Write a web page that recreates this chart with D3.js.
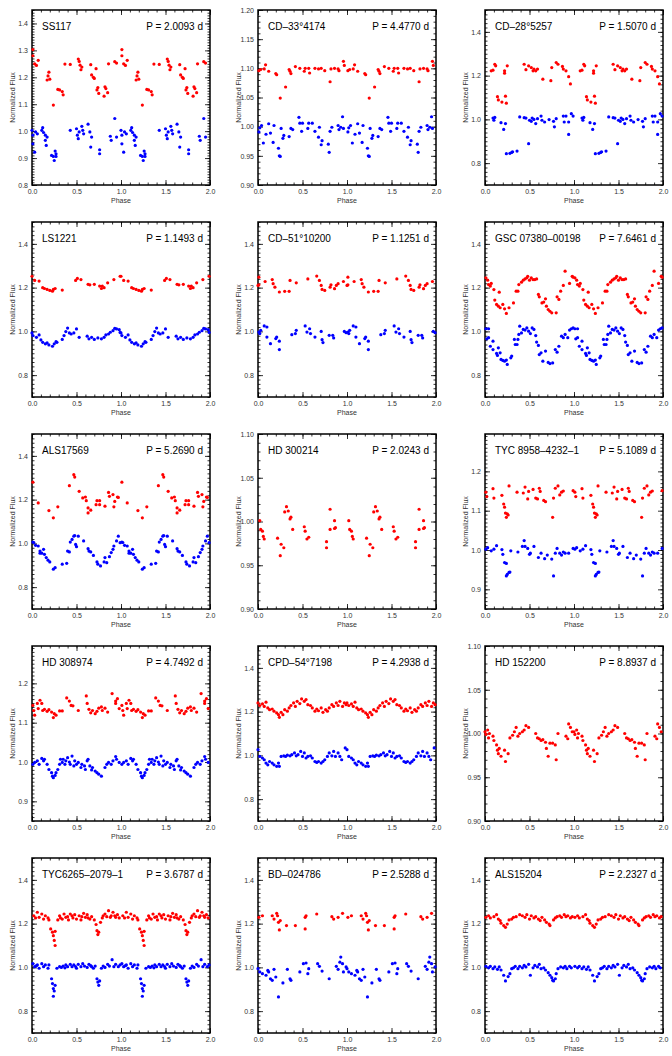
<!DOCTYPE html>
<html>
<head>
<meta charset="utf-8">
<script src="https://cdn.jsdelivr.net/npm/d3@7"></script>
<style>
body { margin: 0; background: #fff; }
text { font-family: "Liberation Sans", Arial, sans-serif; }
</style>
</head>
<body>
<div id="chart"></div>
<script>
// phase-folded light curves, one cycle (0-1) per series; drawn again at phase+1

var ss117Red = [[0.01,1.303],[0.01,1.28],[0.03,1.25],[0.05,1.244],[0.07,1.263],[0.17,1.19],[0.18,1.205],[0.19,1.219],[0.20,1.193],[0.24,1.097],[0.29,1.155],[0.31,1.153],[0.34,1.147],[0.35,1.135],[0.37,1.249],[0.43,1.248],[0.52,1.268],[0.53,1.259],[0.54,1.245],[0.55,1.228],[0.56,1.238],[0.66,1.247],[0.67,1.209],[0.69,1.2],[0.70,1.196],[0.72,1.232],[0.73,1.153],[0.74,1.162],[0.75,1.14],[0.81,1.13],[0.82,1.165],[0.83,1.158],[0.85,1.143],[0.86,1.25],[0.93,1.258],[0.95,1.253]];
var ss117Blue = [[0.0,1.003],[0.01,0.985],[0.01,0.953],[0.03,0.922],[0.04,0.997],[0.06,0.99],[0.11,1.003],[0.12,1.013],[0.13,0.995],[0.15,0.985],[0.15,0.966],[0.16,0.947],[0.17,0.978],[0.22,0.91],[0.24,0.906],[0.25,0.891],[0.26,0.926],[0.27,0.916],[0.27,0.906],[0.43,1.003],[0.50,1.009],[0.51,0.985],[0.52,0.972],[0.53,0.997],[0.56,1.018],[0.57,1.003],[0.58,0.99],[0.63,1.026],[0.65,0.997],[0.66,0.941],[0.67,0.978],[0.76,0.916],[0.76,0.931],[0.88,0.981],[0.89,0.966],[0.93,1.047],[0.95,0.978]];

var cd33Red = [[0.01,1.096],[0.03,1.098],[0.07,1.099],[0.085,1.106],[0.12,1.095],[0.20,1.091],[0.21,1.089],[0.25,1.049],[0.31,1.068],[0.35,1.098],[0.36,1.095],[0.37,1.091],[0.42,1.103],[0.47,1.1],[0.52,1.095],[0.53,1.1],[0.57,1.1],[0.58,1.092],[0.64,1.1],[0.68,1.099],[0.71,1.1],[0.75,1.096],[0.81,1.077],[0.82,1.099],[0.86,1.1],[0.90,1.099],[0.91,1.096],[0.96,1.112],[0.97,1.105]];
var cd33Blue = [[0.01,0.991],[0.02,0.998],[0.04,1.002],[0.06,0.972],[0.09,0.987],[0.12,1.005],[0.14,0.989],[0.17,0.973],[0.18,1.002],[0.23,0.963],[0.24,0.95],[0.25,0.949],[0.26,0.997],[0.28,0.98],[0.29,0.985],[0.35,0.983],[0.37,0.997],[0.39,0.995],[0.46,1.016],[0.47,1.006],[0.49,0.992],[0.50,1.006],[0.56,0.997],[0.57,1.006],[0.61,1.006],[0.64,0.992],[0.68,0.982],[0.69,0.999],[0.71,0.969],[0.72,0.976],[0.79,0.97],[0.80,0.956],[0.81,0.992],[0.83,0.999],[0.90,1.002],[0.91,0.995],[0.93,0.999],[0.95,1.017],[0.96,0.997]];

var cd28Red = [[0.07,1.222],[0.09,1.225],[0.11,1.252],[0.12,1.245],[0.14,1.104],[0.15,1.089],[0.19,1.079],[0.22,1.222],[0.22,1.211],[0.23,1.106],[0.24,1.074],[0.25,1.245],[0.44,1.252],[0.46,1.227],[0.49,1.245],[0.52,1.237],[0.54,1.222],[0.55,1.23],[0.57,1.222],[0.59,1.23],[0.65,1.184],[0.74,1.177],[0.75,1.237],[0.80,1.26],[0.82,1.252],[0.87,1.242],[0.88,1.23],[0.91,1.222],[0.94,1.195],[0.96,1.162]];
var cd28Blue = [[0.09,1.006],[0.10,0.996],[0.11,1.009],[0.18,0.985],[0.21,0.954],[0.23,0.981],[0.24,0.843],[0.28,0.845],[0.30,0.849],[0.31,0.852],[0.36,0.855],[0.39,1.011],[0.44,1.008],[0.46,1.006],[0.49,0.889],[0.50,0.996],[0.52,0.991],[0.53,1.006],[0.55,1.0],[0.57,0.981],[0.59,1.003],[0.63,1.015],[0.64,0.996],[0.67,0.988],[0.72,0.999],[0.77,0.991],[0.78,0.966],[0.80,1.003],[0.88,1.015],[0.89,0.988],[0.91,1.015],[0.94,0.988],[0.94,0.931],[0.97,1.026],[0.99,1.015]];

var ls1221Red = [[0.0,1.252],[0.03,1.233],[0.08,1.23],[0.12,1.2],[0.14,1.196],[0.17,1.192],[0.20,1.187],[0.23,1.184],[0.24,1.192],[0.26,1.196],[0.34,1.189],[0.49,1.233],[0.51,1.242],[0.55,1.237],[0.63,1.215],[0.65,1.213],[0.70,1.215],[0.76,1.207],[0.78,1.196],[0.79,1.207],[0.81,1.2],[0.85,1.222],[0.92,1.237],[0.99,1.252]];
var ls1221Blue = [[0.0,0.993],[0.01,0.981],[0.05,0.973],[0.08,0.984],[0.10,0.961],[0.12,0.95],[0.15,0.943],[0.17,0.947],[0.19,0.938],[0.23,0.932],[0.25,0.943],[0.27,0.953],[0.28,0.95],[0.34,0.963],[0.36,0.981],[0.38,0.999],[0.40,1.015],[0.42,0.993],[0.44,0.988],[0.47,0.993],[0.50,1.011],[0.53,0.973],[0.62,0.978],[0.64,0.966],[0.67,0.973],[0.70,0.963],[0.74,0.97],[0.78,0.966],[0.81,0.973],[0.83,0.984],[0.86,0.988],[0.88,0.996],[0.91,1.003],[0.93,1.014],[0.95,1.011],[0.98,1.008],[0.99,0.995]];

var cd51Red = [[0.0,1.21],[0.01,1.248],[0.01,1.213],[0.08,1.228],[0.16,1.237],[0.17,1.218],[0.19,1.202],[0.24,1.18],[0.30,1.183],[0.35,1.183],[0.36,1.233],[0.43,1.222],[0.56,1.24],[0.66,1.253],[0.69,1.233],[0.71,1.21],[0.72,1.192],[0.75,1.187],[0.81,1.202],[0.82,1.213],[0.86,1.195],[0.88,1.21],[0.90,1.218],[0.96,1.228]];
var cd51Blue = [[0.01,0.997],[0.02,0.99],[0.03,1.005],[0.07,1.025],[0.10,1.02],[0.10,0.974],[0.14,0.944],[0.20,0.967],[0.21,0.974],[0.24,0.955],[0.24,0.917],[0.38,0.985],[0.42,0.99],[0.43,1.005],[0.53,1.025],[0.55,0.997],[0.58,1.012],[0.59,0.99],[0.64,0.974],[0.71,1.0],[0.72,0.962],[0.73,0.949],[0.80,0.982],[0.84,0.982],[0.85,0.97],[0.97,1.0],[0.99,0.994]];

var gscRed = [[0.01,1.245],[0.03,1.234],[0.04,1.214],[0.06,1.207],[0.07,1.219],[0.10,1.191],[0.11,1.143],[0.13,1.123],[0.15,1.115],[0.16,1.179],[0.17,1.108],[0.20,1.123],[0.22,1.103],[0.24,1.082],[0.27,1.108],[0.32,1.13],[0.35,1.184],[0.37,1.184],[0.38,1.214],[0.41,1.225],[0.43,1.234],[0.45,1.24],[0.47,1.245],[0.48,1.252],[0.50,1.234],[0.52,1.245],[0.54,1.237],[0.56,1.237],[0.58,1.24],[0.60,1.169],[0.61,1.158],[0.64,1.13],[0.66,1.134],[0.68,1.149],[0.69,1.115],[0.71,1.1],[0.73,1.092],[0.75,1.085],[0.80,1.085],[0.81,1.158],[0.83,1.146],[0.85,1.184],[0.88,1.21],[0.90,1.275],[0.95,1.219],[0.98,1.252],[0.99,1.248]];
var gscBlue = [[0.01,1.012],[0.02,0.966],[0.04,0.971],[0.04,1.012],[0.06,0.932],[0.09,0.955],[0.09,0.917],[0.13,0.899],[0.14,0.89],[0.15,0.925],[0.17,0.902],[0.18,0.872],[0.20,0.867],[0.22,0.864],[0.24,0.869],[0.25,0.849],[0.29,0.879],[0.30,0.887],[0.33,0.963],[0.34,0.94],[0.36,0.94],[0.37,0.963],[0.38,0.986],[0.39,1.024],[0.41,0.993],[0.43,1.009],[0.45,1.006],[0.47,1.016],[0.49,1.001],[0.51,0.99],[0.53,1.016],[0.55,1.009],[0.57,0.981],[0.58,0.951],[0.60,0.936],[0.61,0.894],[0.63,0.902],[0.65,0.864],[0.68,0.91],[0.71,0.858],[0.73,0.853],[0.76,0.856],[0.79,0.917],[0.81,0.905],[0.83,0.932],[0.86,0.978],[0.88,0.971],[0.90,0.986],[0.93,0.971],[0.95,1.006],[0.97,1.012],[0.99,1.016]];

var als17569Red = [[0.01,1.28],[0.07,1.185],[0.19,1.15],[0.24,1.117],[0.29,1.167],[0.42,1.264],[0.47,1.314],[0.48,1.303],[0.53,1.238],[0.57,1.208],[0.60,1.212],[0.61,1.195],[0.63,1.162],[0.63,1.139],[0.66,1.152],[0.72,1.177],[0.73,1.195],[0.76,1.195],[0.76,1.177],[0.82,1.17],[0.86,1.233],[0.87,1.215],[0.91,1.223],[0.92,1.167],[0.93,1.192],[0.96,1.212],[0.97,1.21]];
var als17569Blue = [[0.01,1.006],[0.02,1.004],[0.04,0.991],[0.07,0.988],[0.09,0.965],[0.09,0.955],[0.11,0.955],[0.13,0.973],[0.14,0.95],[0.16,0.935],[0.18,0.923],[0.20,0.915],[0.24,0.882],[0.26,0.889],[0.34,0.905],[0.39,0.909],[0.40,0.965],[0.42,0.961],[0.43,1.006],[0.45,1.018],[0.47,1.033],[0.48,1.036],[0.49,0.995],[0.50,0.985],[0.52,1.033],[0.58,1.011],[0.63,0.976],[0.64,0.965],[0.66,0.961],[0.69,0.945],[0.73,0.915],[0.74,0.905],[0.77,0.897],[0.81,0.915],[0.82,0.935],[0.84,0.912],[0.87,0.939],[0.89,0.958],[0.91,0.973],[0.92,0.988],[0.95,1.011],[0.97,1.033],[0.99,1.003]];

var hd300214Red = [[0.02,1.001],[0.03,0.991],[0.05,0.989],[0.06,0.983],[0.07,0.98],[0.22,0.981],[0.25,0.961],[0.26,0.974],[0.29,0.97],[0.30,1.011],[0.32,1.017],[0.34,1.012],[0.36,1.003],[0.37,1.005],[0.39,0.991],[0.52,0.994],[0.53,0.989],[0.55,0.98],[0.57,0.982],[0.77,0.977],[0.77,0.97],[0.81,1.014],[0.81,0.991],[0.86,0.992],[0.86,1.001],[0.87,0.993]];

var tyc8958Red = [[0.01,1.147],[0.02,1.136],[0.09,1.156],[0.10,1.132],[0.19,1.139],[0.21,1.117],[0.22,1.109],[0.23,1.094],[0.24,1.083],[0.25,1.092],[0.26,1.089],[0.27,1.163],[0.36,1.147],[0.43,1.145],[0.45,1.16],[0.48,1.13],[0.49,1.149],[0.54,1.154],[0.57,1.132],[0.59,1.13],[0.61,1.157],[0.62,1.149],[0.66,1.126],[0.68,1.123],[0.76,1.083],[0.77,1.132],[0.79,1.157],[0.82,1.163],[0.84,1.14],[0.86,1.147],[0.88,1.15],[0.99,1.151]];
var tyc8958Blue = [[0.01,1.002],[0.03,1.006],[0.07,0.998],[0.10,1.002],[0.13,1.011],[0.19,1.001],[0.20,0.989],[0.22,0.968],[0.24,0.966],[0.24,0.934],[0.25,0.938],[0.27,0.943],[0.28,0.944],[0.29,0.998],[0.37,0.995],[0.42,1.009],[0.44,1.024],[0.45,1.009],[0.48,1.004],[0.50,0.989],[0.51,0.992],[0.55,1.009],[0.60,0.981],[0.63,0.992],[0.67,0.978],[0.70,0.987],[0.75,0.977],[0.77,0.934],[0.79,0.992],[0.81,1.004],[0.84,0.992],[0.86,0.987],[0.88,0.995],[0.90,0.992],[0.94,0.992],[0.99,1.004]];

var hd308974Red = [[0.01,1.144],[0.02,1.131],[0.03,1.119],[0.06,1.149],[0.07,1.136],[0.09,1.157],[0.11,1.149],[0.12,1.131],[0.14,1.134],[0.17,1.129],[0.19,1.133],[0.22,1.127],[0.24,1.113],[0.25,1.123],[0.27,1.119],[0.31,1.13],[0.34,1.13],[0.39,1.163],[0.42,1.155],[0.44,1.144],[0.46,1.143],[0.52,1.131],[0.61,1.168],[0.62,1.149],[0.64,1.134],[0.66,1.125],[0.68,1.131],[0.71,1.123],[0.73,1.129],[0.75,1.137],[0.78,1.14],[0.79,1.131],[0.82,1.137],[0.85,1.127],[0.90,1.174],[0.94,1.155],[0.94,1.149],[0.96,1.161],[0.98,1.136]];
var hd308974Blue = [[0.01,0.994],[0.03,0.999],[0.06,1.003],[0.08,0.994],[0.11,1.009],[0.13,1.003],[0.14,1.007],[0.17,0.994],[0.19,0.981],[0.22,0.973],[0.23,0.964],[0.24,0.96],[0.26,0.966],[0.27,0.973],[0.29,0.981],[0.31,0.994],[0.32,1.007],[0.34,0.999],[0.35,1.007],[0.37,0.994],[0.38,1.003],[0.40,1.011],[0.42,1.0],[0.43,0.994],[0.45,1.015],[0.47,0.99],[0.48,1.003],[0.50,0.994],[0.52,0.999],[0.55,0.986],[0.56,0.994],[0.59,0.99],[0.60,0.981],[0.62,1.003],[0.63,1.007],[0.65,0.99],[0.67,0.98],[0.68,0.986],[0.71,0.977],[0.73,0.973],[0.75,0.969],[0.78,0.964],[0.82,0.986],[0.84,0.994],[0.86,0.999],[0.89,0.994],[0.91,1.003],[0.94,1.014],[0.95,1.007],[0.98,0.999]];

var cpdRed = [[0.0,1.24],[0.02,1.228],[0.05,1.235],[0.07,1.224],[0.09,1.243],[0.11,1.217],[0.13,1.209],[0.16,1.212],[0.18,1.202],[0.21,1.194],[0.23,1.186],[0.24,1.174],[0.26,1.197],[0.28,1.186],[0.30,1.209],[0.33,1.202],[0.35,1.217],[0.37,1.228],[0.40,1.24],[0.42,1.224],[0.44,1.247],[0.47,1.237],[0.49,1.258],[0.52,1.247],[0.54,1.255],[0.56,1.232],[0.59,1.228],[0.61,1.217],[0.64,1.202],[0.66,1.212],[0.68,1.204],[0.71,1.217],[0.73,1.197],[0.76,1.209],[0.78,1.202],[0.80,1.217],[0.83,1.232],[0.85,1.224],[0.88,1.24],[0.90,1.228],[0.92,1.247],[0.95,1.224],[0.97,1.24],[0.99,1.232]];
var cpdBlue = [[0.0,1.026],[0.02,0.995],[0.05,0.988],[0.07,0.98],[0.09,0.965],[0.11,0.957],[0.13,0.972],[0.16,0.965],[0.18,0.957],[0.21,0.95],[0.23,0.965],[0.24,0.95],[0.26,0.995],[0.29,0.998],[0.31,0.995],[0.33,1.001],[0.36,0.998],[0.38,1.003],[0.41,1.011],[0.43,0.998],[0.45,1.003],[0.48,1.018],[0.50,0.995],[0.52,1.011],[0.54,0.988],[0.56,0.995],[0.59,0.998],[0.61,0.988],[0.64,0.972],[0.66,0.968],[0.68,0.972],[0.71,0.965],[0.73,0.972],[0.75,0.98],[0.78,0.995],[0.80,1.011],[0.83,0.998],[0.85,1.018],[0.87,0.995],[0.90,1.011],[0.92,0.995],[0.94,0.98],[0.98,1.034]];

var hd152200Red = [[0.0,1.002],[0.01,0.999],[0.03,1.004],[0.04,0.995],[0.05,1.0],[0.09,0.997],[0.10,0.992],[0.13,0.987],[0.14,0.981],[0.15,0.977],[0.16,0.983],[0.18,0.974],[0.22,0.981],[0.23,0.968],[0.26,0.977],[0.28,0.995],[0.31,0.998],[0.33,1.002],[0.35,1.007],[0.37,0.997],[0.39,1.0],[0.42,1.002],[0.44,1.004],[0.46,1.009],[0.49,1.007],[0.57,1.0],[0.59,0.995],[0.61,0.994],[0.63,0.992],[0.65,0.993],[0.68,0.99],[0.69,0.983],[0.71,0.974],[0.73,0.989],[0.76,0.989],[0.79,0.987],[0.80,0.97],[0.82,1.0],[0.91,0.997],[0.93,0.994],[0.94,1.011],[0.96,1.007],[0.98,1.002]];

var tyc6265Red = [[0.02,1.236],[0.04,1.226],[0.06,1.252],[0.08,1.229],[0.11,1.244],[0.13,1.221],[0.15,1.236],[0.18,1.226],[0.19,1.217],[0.21,1.176],[0.23,1.161],[0.24,1.145],[0.25,1.123],[0.26,1.1],[0.26,1.165],[0.29,1.217],[0.31,1.236],[0.32,1.226],[0.34,1.221],[0.36,1.244],[0.38,1.229],[0.40,1.232],[0.41,1.217],[0.43,1.244],[0.45,1.236],[0.46,1.226],[0.48,1.241],[0.50,1.221],[0.53,1.236],[0.55,1.217],[0.56,1.232],[0.58,1.247],[0.60,1.229],[0.62,1.241],[0.63,1.226],[0.65,1.221],[0.67,1.232],[0.70,1.217],[0.72,1.196],[0.73,1.168],[0.74,1.15],[0.75,1.161],[0.77,1.206],[0.79,1.226],[0.80,1.236],[0.82,1.244],[0.84,1.232],[0.86,1.259],[0.88,1.229],[0.89,1.236],[0.91,1.252],[0.93,1.236],[0.94,1.229],[0.96,1.241],[0.98,1.226]];
var tyc6265Blue = [[0.01,1.017],[0.03,1.003],[0.05,1.008],[0.06,1.011],[0.08,0.996],[0.11,1.017],[0.13,1.003],[0.15,1.011],[0.18,0.996],[0.19,1.011],[0.22,0.948],[0.23,0.926],[0.24,0.903],[0.24,0.868],[0.25,0.892],[0.26,0.918],[0.28,0.996],[0.31,1.003],[0.33,1.0],[0.35,1.006],[0.37,0.998],[0.38,1.011],[0.40,1.003],[0.43,1.014],[0.45,1.003],[0.47,1.011],[0.49,1.004],[0.50,0.996],[0.52,1.014],[0.55,1.003],[0.57,1.017],[0.59,1.006],[0.62,1.0],[0.64,1.014],[0.66,1.008],[0.67,1.003],[0.69,0.996],[0.71,1.006],[0.73,0.948],[0.74,0.933],[0.75,0.918],[0.76,0.938],[0.78,0.996],[0.80,1.006],[0.82,1.0],[0.85,1.014],[0.87,1.006],[0.90,1.035],[0.92,1.003],[0.94,1.014],[0.97,1.003],[0.99,1.011]];

var bdRed = [[0.01,1.229],[0.05,1.236],[0.16,1.236],[0.18,1.221],[0.21,1.247],[0.22,1.236],[0.23,1.206],[0.24,1.171],[0.25,1.214],[0.32,1.191],[0.42,1.191],[0.53,1.229],[0.54,1.236],[0.53,1.176],[0.66,1.244],[0.83,1.232],[0.85,1.221],[0.90,1.229],[0.95,1.247]];
var bdBlue = [[0.0,0.994],[0.02,0.979],[0.05,0.971],[0.09,0.964],[0.11,0.986],[0.12,0.979],[0.14,0.948],[0.16,0.941],[0.18,0.991],[0.20,0.956],[0.23,0.865],[0.28,0.929],[0.33,0.991],[0.36,0.948],[0.37,0.941],[0.47,0.979],[0.51,1.017],[0.54,1.02],[0.56,0.971],[0.57,0.994],[0.67,1.017],[0.69,1.005],[0.72,0.983],[0.80,0.948],[0.88,1.005],[0.90,0.991],[0.92,1.024],[0.93,1.047],[0.95,1.017],[0.96,0.979],[0.99,1.002]];

var als15204Red = [[0.01,1.229],[0.04,1.236],[0.06,1.226],[0.10,1.232],[0.13,1.241],[0.15,1.221],[0.17,1.214],[0.18,1.202],[0.21,1.191],[0.23,1.183],[0.25,1.198],[0.27,1.217],[0.30,1.221],[0.32,1.229],[0.35,1.232],[0.39,1.241],[0.42,1.236],[0.45,1.229],[0.47,1.241],[0.50,1.221],[0.52,1.236],[0.55,1.226],[0.57,1.232],[0.60,1.221],[0.62,1.214],[0.64,1.229],[0.67,1.217],[0.69,1.206],[0.72,1.198],[0.73,1.191],[0.77,1.217],[0.79,1.226],[0.81,1.232],[0.84,1.236],[0.86,1.229],[0.89,1.241],[0.91,1.232],[0.93,1.236],[0.96,1.226],[0.98,1.232]];
var als15204Blue = [[0.01,1.005],[0.04,0.998],[0.06,1.005],[0.09,0.994],[0.11,1.002],[0.14,0.991],[0.16,1.002],[0.18,0.988],[0.21,0.964],[0.23,0.938],[0.26,0.958],[0.28,0.971],[0.30,0.994],[0.32,0.998],[0.34,1.005],[0.37,0.994],[0.39,1.005],[0.42,0.998],[0.44,1.009],[0.46,1.002],[0.49,1.014],[0.51,0.964],[0.54,0.998],[0.56,1.009],[0.59,1.002],[0.61,1.014],[0.63,0.994],[0.66,0.998],[0.68,0.988],[0.71,0.976],[0.73,0.964],[0.75,0.953],[0.76,0.941],[0.77,0.938],[0.79,0.948],[0.80,0.971],[0.82,0.994],[0.85,1.002],[0.88,0.998],[0.90,1.005],[0.92,0.994],[0.95,1.005],[0.97,0.998]];

var stars = ["SS117", "CD\u201333\u00b04174", "CD\u201328\u00b05257",
             "LS1221", "CD\u201351\u00b010200", "GSC 07380\u201300198",
             "ALS17569", "HD 300214", "TYC 8958\u20134232\u20131",
             "HD 308974", "CPD\u201354\u00b07198", "HD 152200",
             "TYC6265\u20132079\u20131", "BD\u2013024786", "ALS15204"];
var periods = ["2.0093", "4.4770", "1.5070", "1.1493", "1.1251", "7.6461", "5.2690", "2.0243",
               "5.1089", "4.7492", "4.2938", "8.8937", "3.6787", "2.5288", "2.2327"];
var redSeries = [ss117Red, cd33Red, cd28Red, ls1221Red, cd51Red, gscRed, als17569Red, hd300214Red,
                 tyc8958Red, hd308974Red, cpdRed, hd152200Red, tyc6265Red, bdRed, als15204Red];
var blueSeries = [ss117Blue, cd33Blue, cd28Blue, ls1221Blue, cd51Blue, gscBlue, als17569Blue, null,
                  tyc8958Blue, hd308974Blue, cpdBlue, null, tyc6265Blue, bdBlue, als15204Blue];

var yRanges = [[0.8,1.45],[0.9,1.2],[0.7,1.5],[0.7,1.5],[0.7,1.5],[0.7,1.5],[0.7,1.5],[0.9,1.1],
               [0.85,1.295],[0.85,1.295],[0.7,1.5],[0.9,1.1],[0.7,1.5],[0.7,1.5],[0.7,1.5]];
var wide = [0.8,1.0,1.2,1.4], fine = [0.90,0.95,1.00,1.05,1.10];
var yTickLabels = [[0.8,0.9,1.0,1.1,1.2,1.3,1.4],[0.90,0.95,1.00,1.05,1.10,1.15,1.20],wide,wide,wide,wide,wide,fine,
                   [0.9,1.0,1.1,1.2],[0.9,1.0,1.1,1.2],wide,fine,wide,wide,wide];
var yMinorSteps = [0.01,0.01,0.02,0.02,0.02,0.02,0.02,0.01,0.01,0.01,0.02,0.01,0.02,0.02,0.02];
var yFormats = [".1f",".2f",".1f",".1f",".1f",".1f",".1f",".2f",".1f",".1f",".1f",".2f",".1f",".1f",".1f"];
var xTicks = [0, 0.5, 1, 1.5, 2];

var W = 672, H = 1056;
var colX = [32, 258, 485], rowY = [10, 222, 434, 646, 858];
var pw = 178, ph = 175;

var svg = d3.select("#chart").append("svg")
    .attr("width", W)
    .attr("height", H);

function steps(lo, hi, s) {
    var out = [];
    for (var k = Math.ceil(lo / s - 1e-6); k <= Math.floor(hi / s + 1e-6); k++) out.push(+(k * s).toFixed(4));
    return out;
}

function clean(sel) {
    sel.select(".domain").remove();
    sel.selectAll("line").attr("stroke", "#000").attr("stroke-width", 0.8);
}

stars.forEach(function(name, i) {
    var g = svg.append("g")
        .attr("transform", "translate(" + colX[i % 3] + "," + rowY[Math.floor(i / 3)] + ")");

    var x = d3.scaleLinear().domain([0, 2]).range([0, pw]);
    var y = d3.scaleLinear().domain(yRanges[i]).range([ph, 0]);

    var xMinor = steps(0, 2, 0.1);
    var yMinor = steps(yRanges[i][0], yRanges[i][1], yMinorSteps[i]);

    // minor ticks, all four sides, pointing in
    g.append("g").attr("transform", "translate(0," + ph + ")")
        .call(d3.axisBottom(x).tickValues(xMinor).tickSize(-2.5).tickFormat("")).call(clean);
    g.append("g")
        .call(d3.axisTop(x).tickValues(xMinor).tickSize(-2.5).tickFormat("")).call(clean);
    g.append("g")
        .call(d3.axisLeft(y).tickValues(yMinor).tickSize(-2.5).tickFormat("")).call(clean);
    g.append("g").attr("transform", "translate(" + pw + ",0)")
        .call(d3.axisRight(y).tickValues(yMinor).tickSize(-2.5).tickFormat("")).call(clean);

    // major ticks
    var xb = g.append("g").attr("transform", "translate(0," + ph + ")")
        .call(d3.axisBottom(x).tickValues(xTicks).tickSize(-5).tickPadding(4).tickFormat(d3.format(".1f")));
    xb.call(clean);
    g.append("g")
        .call(d3.axisTop(x).tickValues(xTicks).tickSize(-5).tickFormat("")).call(clean);
    var yl = g.append("g")
        .call(d3.axisLeft(y).tickValues(yTickLabels[i]).tickSize(-5).tickPadding(4).tickFormat(d3.format(yFormats[i])));
    yl.call(clean);
    g.append("g").attr("transform", "translate(" + pw + ",0)")
        .call(d3.axisRight(y).tickValues(yTickLabels[i]).tickSize(-5).tickFormat("")).call(clean);

    g.selectAll(".tick text")
        .attr("font-size", 7)
        .attr("fill", "#333")
        .attr("font-family", "'Liberation Sans', Arial, sans-serif");

    g.append("rect")
        .attr("width", pw)
        .attr("height", ph)
        .attr("fill", "none")
        .attr("stroke", "#000")
        .attr("stroke-width", 1.5);

    // points, each cycle drawn twice
    function plot(series, color) {
        if (!series) return;
        var pts = series.concat(series.map(function(d) { return [d[0] + 1, d[1]]; }));
        g.append("g").selectAll("circle")
            .data(pts)
            .enter()
            .append("circle")
                .attr("cx", function(d) { return x(d[0]); })
                .attr("cy", function(d) { return y(d[1]); })
                .attr("r", 1.6)
                .attr("fill", color);
    }
    plot(redSeries[i], "#ff0000");
    plot(blueSeries[i], "#0000ff");

    g.append("text")
        .attr("x", 10)
        .attr("y", 19.5)
        .attr("font-size", 10)
        .attr("fill", "#000")
        .text(name);

    g.append("text")
        .attr("text-anchor", "end")
        .attr("x", pw - 7)
        .attr("y", 19.5)
        .attr("font-size", 10)
        .attr("fill", "#000")
        .text("P = " + periods[i] + " d");

    g.append("text")
        .attr("text-anchor", "middle")
        .attr("x", pw / 2)
        .attr("y", ph + 17.5)
        .attr("font-size", 7)
        .attr("fill", "#333")
        .text("Phase");

    g.append("text")
        .attr("text-anchor", "middle")
        .attr("transform", "translate(-17," + (ph / 2) + ") rotate(-90)")
        .attr("font-size", 7)
        .attr("fill", "#333")
        .text("Normalized Flux");
});
</script>
</body>
</html>
